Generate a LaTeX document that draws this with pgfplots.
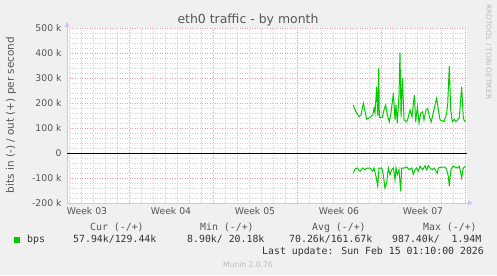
\documentclass[border=0pt]{standalone}
\usepackage{fontspec}
\setmainfont{DejaVu Sans}
\newfontfamily\monofont{DejaVu Sans Mono}
\usepackage{pgfplots}
\pgfplotsset{compat=1.18}
\usetikzlibrary{arrows.meta}
\definecolor{bgc}{HTML}{F0F0F0}
\definecolor{txt}{HTML}{555555}
\definecolor{grn}{HTML}{00CC00}
\definecolor{majg}{HTML}{EEA0A0}
\definecolor{ming}{HTML}{D0D0D0}
\definecolor{axc}{HTML}{C8C8F4}
\definecolor{faint}{HTML}{BBBBBB}
\definecolor{mono}{HTML}{333333}
\begin{document}
\begin{tikzpicture}[x=1bp,y=-1bp]
\fill[bgc] (0,0) rectangle (497,275);
\begin{axis}[
  at={(67bp,-203bp)}, anchor=south west, scale only axis,
  width=400bp, height=175bp,
  xmin=-0.1667, xmax=33.1667, ymin=-200000, ymax=500000,
  axis background/.style={fill=white},
  axis x line*=bottom, axis y line*=left,
  axis line style={axc, line width=1bp, -{Triangle[length=5bp,width=5bp]}, shorten >=-6bp},
  xtick={1.5,8.5,15.5,22.5,29.5},
  xticklabels={Week 03,Week 04,Week 05,Week 06,Week 07},
  minor xtick={0,1,...,33},
  extra x ticks={5,12,19,26,33},
  extra x tick labels={},
  extra x tick style={grid=major},
  ytick={-200000,-100000,0,100000,200000,300000,400000,500000},
  yticklabels={-200 k,-100 k,0,100 k,200 k,300 k,400 k,500 k},
  minor ytick={-180000,-160000,...,480000},
  scaled y ticks=false,
  ymajorgrids=true, yminorgrids=true, xminorgrids=true, xmajorgrids=false,
  major grid style={majg, line width=0.8bp, dash pattern=on 1bp off 1.5bp},
  minor grid style={ming, line width=0.8bp, dash pattern=on 1bp off 1.5bp},
  major tick length=0pt, minor tick length=0pt,
  tick label style={font=\fontsize{9.3}{10}\selectfont, text=txt},
  yticklabel style={xshift=-2bp},
  xticklabel style={yshift=-1bp},
]
\addplot[grn, line width=1bp] coordinates {
(23.69,192000) (23.78,178000) (23.98,159000) (24.19,145000) (24.33,152000)
(24.53,199000) (24.67,165000) (24.81,135000) (25.08,143000) (25.31,152000)
(25.42,179000) (25.50,160000) (25.64,265000) (25.73,150000) (25.81,339000)
(25.86,143000) (26.11,143000) (26.25,172000) (26.39,192000) (26.53,152000)
(26.69,125000) (26.83,159000) (27.03,239000) (27.17,132000) (27.25,192000)
(27.36,119000) (27.50,232000) (27.58,401000) (27.67,145000) (27.78,300000)
(27.92,132000) (28.14,125000) (28.25,139000) (28.42,172000) (28.58,145000)
(28.78,232000) (28.89,125000) (29.03,185000) (29.17,120000) (29.31,159000)
(29.47,165000) (29.58,132000) (29.75,172000) (29.89,178000) (30.03,145000)
(30.19,125000) (30.31,152000) (30.50,192000) (30.64,219000) (30.78,172000)
(30.92,132000) (31.06,130000) (31.25,125000) (31.47,159000) (31.56,199000)
(31.69,347000) (31.81,172000) (31.94,125000) (32.11,135000) (32.25,125000)
(32.39,132000) (32.53,143000) (32.72,265000) (32.86,139000) (33.00,125000)
};
\addplot[grn, line width=1bp] coordinates {
(23.69,-80000) (23.83,-64000) (24.03,-60000) (24.25,-73000) (24.47,-60000)
(24.67,-67000) (24.81,-60000) (25.08,-60000) (25.31,-73000) (25.42,-60000)
(25.58,-93000) (25.73,-133000) (25.83,-60000) (26.06,-60000) (26.19,-87000)
(26.33,-140000) (26.47,-121000) (26.61,-60000) (26.75,-87000) (26.89,-67000)
(27.03,-60000) (27.17,-107000) (27.25,-60000) (27.36,-87000) (27.50,-67000)
(27.64,-153000) (27.72,-60000) (27.92,-60000) (28.14,-56000) (28.36,-67000)
(28.56,-60000) (28.69,-85000) (28.83,-67000) (28.97,-60000) (29.11,-73000)
(29.25,-53000) (29.47,-67000) (29.67,-51000) (29.81,-67000) (29.94,-51000)
(30.08,-60000) (30.28,-67000) (30.44,-60000) (30.58,-73000) (30.69,-81000)
(30.78,-60000) (31.06,-56000) (31.33,-56000) (31.47,-67000) (31.61,-93000)
(31.69,-133000) (31.81,-73000) (31.97,-53000) (32.17,-56000) (32.36,-60000)
(32.53,-53000) (32.72,-99000) (32.86,-60000) (33.00,-53000)
};
\addplot[black, line width=1bp] coordinates {(-0.1667,0) (33.1667,0)};
\end{axis}
% title and side texts
\node[anchor=base, text=txt, font=\fontsize{12.5}{14}\selectfont] at (248,23) {eth0 traffic - by month};
\node[rotate=90, text=txt, font=\fontsize{10.5}{12}\selectfont] at (11,115) {bits in (-) / out (+) per second};
\node[rotate=-90, text=faint, font=\fontsize{7.4}{9}\selectfont] at (488.5,52) {RRDTOOL / TOBI OETIKER};
% legend
\begin{scope}[every node/.style={anchor=base west, inner sep=0pt, text=mono, font=\monofont\fontsize{9.9}{11}\selectfont}]
\node[text=txt] at (90,230.5) {Cur (-/+)};
\node[text=txt] at (200,230.5) {Min (-/+)};
\node[text=txt] at (312,230.5) {Avg (-/+)};
\node[text=txt] at (423,230.5) {Max (-/+)};
\node at (27,242.3) {bps};
\node at (73,242.3) {57.94k/129.44k};
\node at (187,242.3) {8.90k/\ 20.18k};
\node at (289,242.3) {70.26k/161.67k};
\node at (392,242.3) {987.40k/\ \ 1.94M};
\node at (262,254.3) {Last update: Sun Feb 15 01:10:00 2026};
\end{scope}
\fill[grn] (14,237) rectangle (19.5,242.5);
\node[anchor=base, text=faint, font=\fontsize{7.6}{9}\selectfont] at (248,267) {Munin 2.0.76};
\end{tikzpicture}
\end{document}
